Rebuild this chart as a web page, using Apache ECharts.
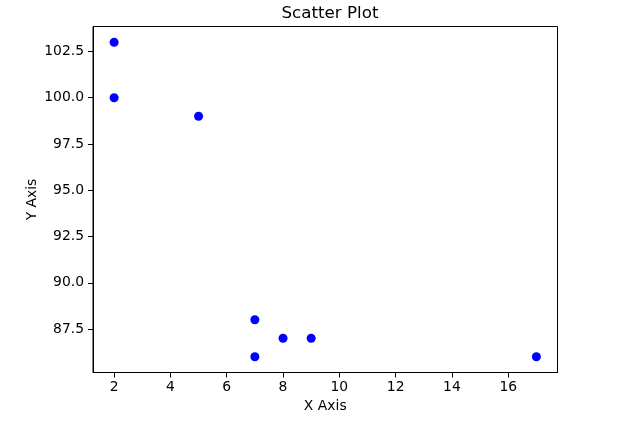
<!DOCTYPE html>
<html>
<head>
<meta charset="utf-8">
<script src="https://cdn.jsdelivr.net/npm/echarts@6/dist/echarts.min.js"></script>
<style>html,body{margin:0;padding:0;background:#fff;}#c{width:630px;height:425px;}</style>
</head>
<body>
<div id="c"></div>
<script>
var xValues = [2, 2, 5, 7, 7, 8, 9, 17];
var yValues = [103, 100, 99, 88, 86, 87, 87, 86];
var xTicks = [2, 4, 6, 8, 10, 12, 14, 16];
var yTicks = [87.5, 90.0, 92.5, 95.0, 97.5, 100.0, 102.5];

var points = xValues.map(function (x, i) { return [x, yValues[i]]; });
var font = 'DejaVu Sans';
var chart = echarts.init(document.getElementById('c'), null, {renderer: 'canvas'});
chart.setOption({
  animation: false,
  backgroundColor: '#fff',
  title: {
    text: 'Scatter Plot', left: 325, top: 0, textAlign: 'center',
    textStyle: {fontFamily: font, fontSize: 16.7, fontWeight: 'normal', color: '#000'}
  },
  grid: {left: 93, right: 72.5, top: 26.5, bottom: 52.5, show: true, borderColor: '#000', borderWidth: 1, backgroundColor: 'transparent'},
  xAxis: {
    type: 'value', min: 1.25, max: 17.75,
    name: 'X Axis', nameLocation: 'middle', nameGap: 27, nameMoveOverlap: false,
    nameTextStyle: {fontFamily: font, fontSize: 13.9, color: '#000'},
    splitLine: {show: false},
    axisLine: {show: true, onZero: false, lineStyle: {color: '#000', width: 1}},
    axisTick: {show: true, length: 5, customValues: xTicks, lineStyle: {color: '#000'}},
    axisLabel: {margin: 8, customValues: xTicks, fontFamily: font, fontSize: 13.9, color: '#000'}
  },
  yAxis: {
    type: 'value', min: 85.15, max: 103.85,
    name: 'Y Axis', nameLocation: 'middle', nameGap: 54, nameMoveOverlap: false,
    nameTextStyle: {fontFamily: font, fontSize: 13.9, color: '#000'},
    splitLine: {show: false},
    axisLine: {show: true, onZero: false, lineStyle: {color: '#000', width: 1}},
    axisTick: {show: true, length: 5, customValues: yTicks, lineStyle: {color: '#000'}},
    axisLabel: {margin: 9, customValues: yTicks, fontFamily: font, fontSize: 13.9, color: '#000',
      formatter: function (v) { return v.toFixed(1); }}
  },
  series: [{
    type: 'scatter', data: points, symbolSize: 9,
    itemStyle: {color: '#0000ff', opacity: 1}
  }]
});
</script>
</body>
</html>
